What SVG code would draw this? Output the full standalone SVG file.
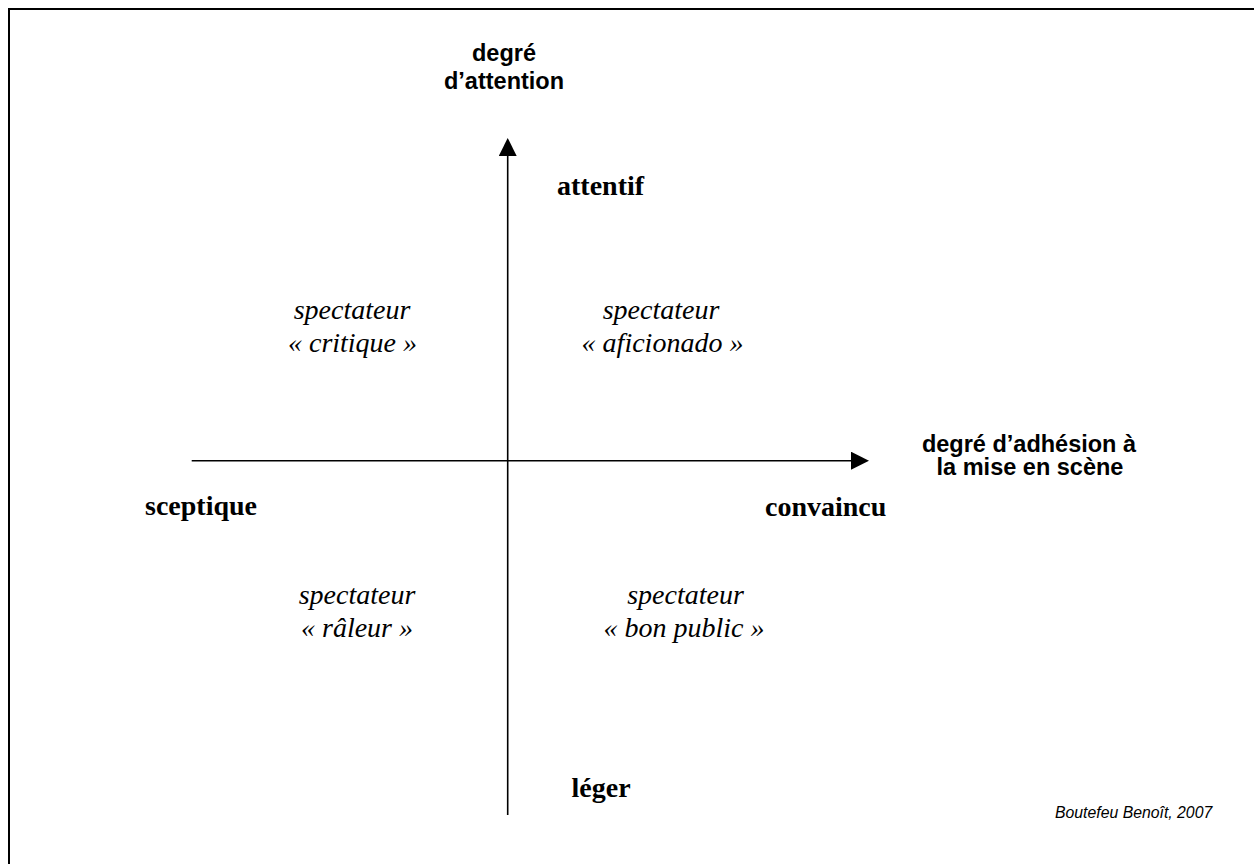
<svg xmlns="http://www.w3.org/2000/svg" width="1254" height="864" viewBox="0 0 1254 864">
  <style>
    .axis { stroke: #000; stroke-width: 1.6; fill: none; }
    .pole { font-family: "Liberation Serif", "Times New Roman", serif; font-weight: bold; font-size: 28px; fill: #000; }
    .type { font-family: "Liberation Serif", "Times New Roman", serif; font-style: italic; font-size: 28px; fill: #000; text-anchor: middle; }
    .title { font-family: "Liberation Sans", Arial, sans-serif; font-weight: bold; font-size: 23.5px; fill: #000; text-anchor: middle; }
    .credit { font-family: "Liberation Sans", Arial, sans-serif; font-style: italic; font-size: 15.8px; fill: #000; }
  </style>
  <defs>
    <marker id="arrow" markerUnits="userSpaceOnUse" markerWidth="18" markerHeight="18" refX="0" refY="9" orient="auto">
      <path d="M0,0 L18,9 L0,18 Z" fill="#000"/>
    </marker>
  </defs>
  <rect x="0" y="0" width="1254" height="864" fill="#fff"/>
  <rect x="9" y="9" width="1300" height="900" fill="none" stroke="#000" stroke-width="2"/>

  <g id="connectors">
    <line id="axis-attention" class="axis" x1="507.7" y1="815" x2="507.7" y2="156" marker-end="url(#arrow)"/>
    <line id="axis-adhesion" class="axis" x1="191.7" y1="460.7" x2="851" y2="460.7" marker-end="url(#arrow)"/>
  </g>

  <g id="label-attention">
    <text class="title" x="504" y="61">degré</text>
    <text class="title" x="504" y="88.5">d’attention</text>
  </g>
  <g id="label-adhesion">
    <text class="title" x="1029" y="451.5">degré d’adhésion à</text>
    <text class="title" x="1030" y="475">la mise en scène</text>
  </g>

  <g id="pole-attentif"><text class="pole" x="557" y="194.5">attentif</text></g>
  <g id="pole-leger"><text class="pole" x="571.5" y="797">léger</text></g>
  <g id="pole-sceptique"><text class="pole" x="145" y="515">sceptique</text></g>
  <g id="pole-convaincu"><text class="pole" x="765" y="515.5">convaincu</text></g>

  <g id="type-critique">
    <text class="type" x="352" y="318.5">spectateur</text>
    <text class="type" x="352.5" y="351.5">« critique »</text>
  </g>
  <g id="type-aficionado">
    <text class="type" x="661" y="318.5">spectateur</text>
    <text class="type" x="662.5" y="351.5">« aficionado »</text>
  </g>
  <g id="type-raleur">
    <text class="type" x="357" y="604">spectateur</text>
    <text class="type" x="357" y="637">« râleur »</text>
  </g>
  <g id="type-bon-public">
    <text class="type" x="685.5" y="604">spectateur</text>
    <text class="type" x="684" y="637">« bon public »</text>
  </g>

  <g id="credit"><text class="credit" x="1055" y="818">Boutefeu Benoît, 2007</text></g>
</svg>
